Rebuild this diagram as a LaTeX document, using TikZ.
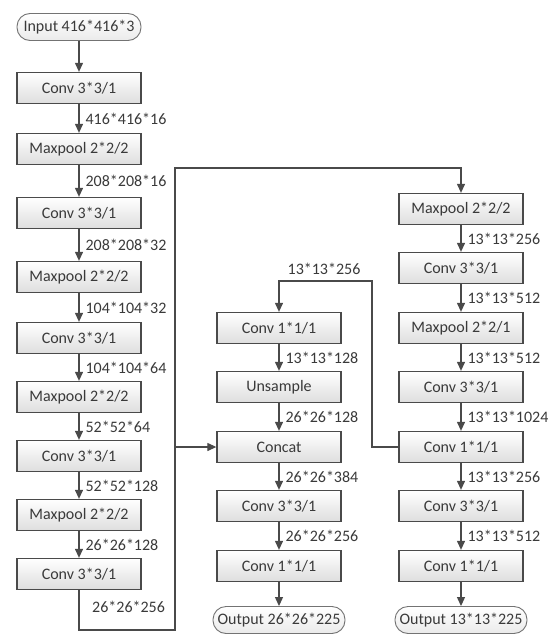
\documentclass[tikz,border=0pt]{standalone}
\usepackage{fontspec}
\setmainfont{Carlito}
\usetikzlibrary{arrows.meta}
\definecolor{ink}{HTML}{3A3A3A}
\definecolor{edge}{HTML}{4A4A4A}
\begin{document}
\begin{tikzpicture}[x=1pt,y=-1pt,
  font=\fontsize{16}{18}\selectfont,
  layer/.style={draw=edge, line width=1.3pt, top color=white, bottom color=black!13,
    minimum width=124pt, minimum height=31pt, inner sep=0pt, text=ink},
  term/.style={draw=black!55, line width=0.9pt, rounded corners=13pt, top color=white,
    bottom color=black!8, minimum width=124pt, minimum height=27pt, inner sep=0pt, text=ink},
  flow/.style={draw=edge, line width=1.2pt, -{Triangle[length=9pt,width=8pt]}},
  dim/.style={anchor=west, inner sep=0pt, xshift=6pt, text=ink}
]
\fill[white] (0,0) rectangle (548,635);
\useasboundingbox (0,0) rectangle (548,635);

% backbone (left column)
\node[term]  (in) at (79,27)  {Input 416*416*3};
\node[layer] (c1) at (79,88)  {Conv 3*3/1};
\node[layer] (m1) at (79,149) {Maxpool 2*2/2};
\node[layer] (c2) at (79,213) {Conv 3*3/1};
\node[layer] (m2) at (79,277) {Maxpool 2*2/2};
\node[layer] (c3) at (79,338) {Conv 3*3/1};
\node[layer] (m3) at (79,397) {Maxpool 2*2/2};
\node[layer] (c4) at (79,456) {Conv 3*3/1};
\node[layer] (m4) at (79,515) {Maxpool 2*2/2};
\node[layer] (c5) at (79,574) {Conv 3*3/1};

% 26x26 head (middle column)
\node[layer] (mc1) at (279,328) {Conv 1*1/1};
\node[layer] (up)  at (279,387) {Unsample};
\node[layer] (cat) at (279,447) {Concat};
\node[layer] (mc2) at (279,506) {Conv 3*3/1};
\node[layer] (mc3) at (279,566) {Conv 1*1/1};
\node[term, minimum width=132pt]  (mout) at (279,620) {Output 26*26*225};

% 13x13 head (right column)
\node[layer] (rm1) at (461,209) {Maxpool 2*2/2};
\node[layer] (rc1) at (461,268) {Conv 3*3/1};
\node[layer] (rm2) at (461,328) {Maxpool 2*2/1};
\node[layer] (rc2) at (461,387) {Conv 3*3/1};
\node[layer] (rc3) at (461,447) {Conv 1*1/1};
\node[layer] (rc4) at (461,506) {Conv 3*3/1};
\node[layer] (rc5) at (461,566) {Conv 1*1/1};
\node[term, minimum width=132pt]  (rout) at (461,620) {Output 13*13*225};

% backbone arrows
\draw[flow] (in) -- (c1);
\draw[flow] (c1) -- node[dim] {416*416*16} (m1);
\draw[flow] (m1) -- node[dim] {208*208*16} (c2);
\draw[flow] (c2) -- node[dim] {208*208*32} (m2);
\draw[flow] (m2) -- node[dim] {104*104*32} (c3);
\draw[flow] (c3) -- node[dim] {104*104*64} (m3);
\draw[flow] (m3) -- node[dim] {52*52*64} (c4);
\draw[flow] (c4) -- node[dim] {52*52*128} (m4);
\draw[flow] (m4) -- node[dim] {26*26*128} (c5);

% routing of the backbone output
\coordinate (loopB) at (175,630);
\coordinate (loopT) at (175,168);
\draw[flow] (c5.south) |- (loopB) -- (loopT) -| (rm1.north);
\draw[flow] (loopB |- cat.west) -- (cat.west);
\node[dim, xshift=0pt] (bblab) at (86,607) {26*26*256};

% middle column arrows
\draw[flow] (mc1) -- node[dim] {13*13*128} (up);
\draw[flow] (up)  -- node[dim] {26*26*128} (cat);
\draw[flow] (cat) -- node[dim] {26*26*384} (mc2);
\draw[flow] (mc2) -- node[dim] {26*26*256} (mc3);
\draw[flow] (mc3) -- (mout);

% right column arrows
\draw[flow] (rm1) -- node[dim] {13*13*256} (rc1);
\draw[flow] (rc1) -- node[dim] {13*13*512} (rm2);
\draw[flow] (rm2) -- node[dim] {13*13*512} (rc2);
\draw[flow] (rc2) -- node[dim] {13*13*1024} (rc3);
\draw[flow] (rc3) -- node[dim] {13*13*256} (rc4);
\draw[flow] (rc4) -- node[dim] {13*13*512} (rc5);
\draw[flow] (rc5) -- (rout);

% feedback from the 13x13 branch into the 26x26 head
\coordinate (fbR) at (372,281);
\draw[flow] (rc3.west) -| (fbR) -| (mc1.north);
\node[text=ink, inner sep=0pt] (fblab) at (324,269) {13*13*256};
\end{tikzpicture}
\end{document}
